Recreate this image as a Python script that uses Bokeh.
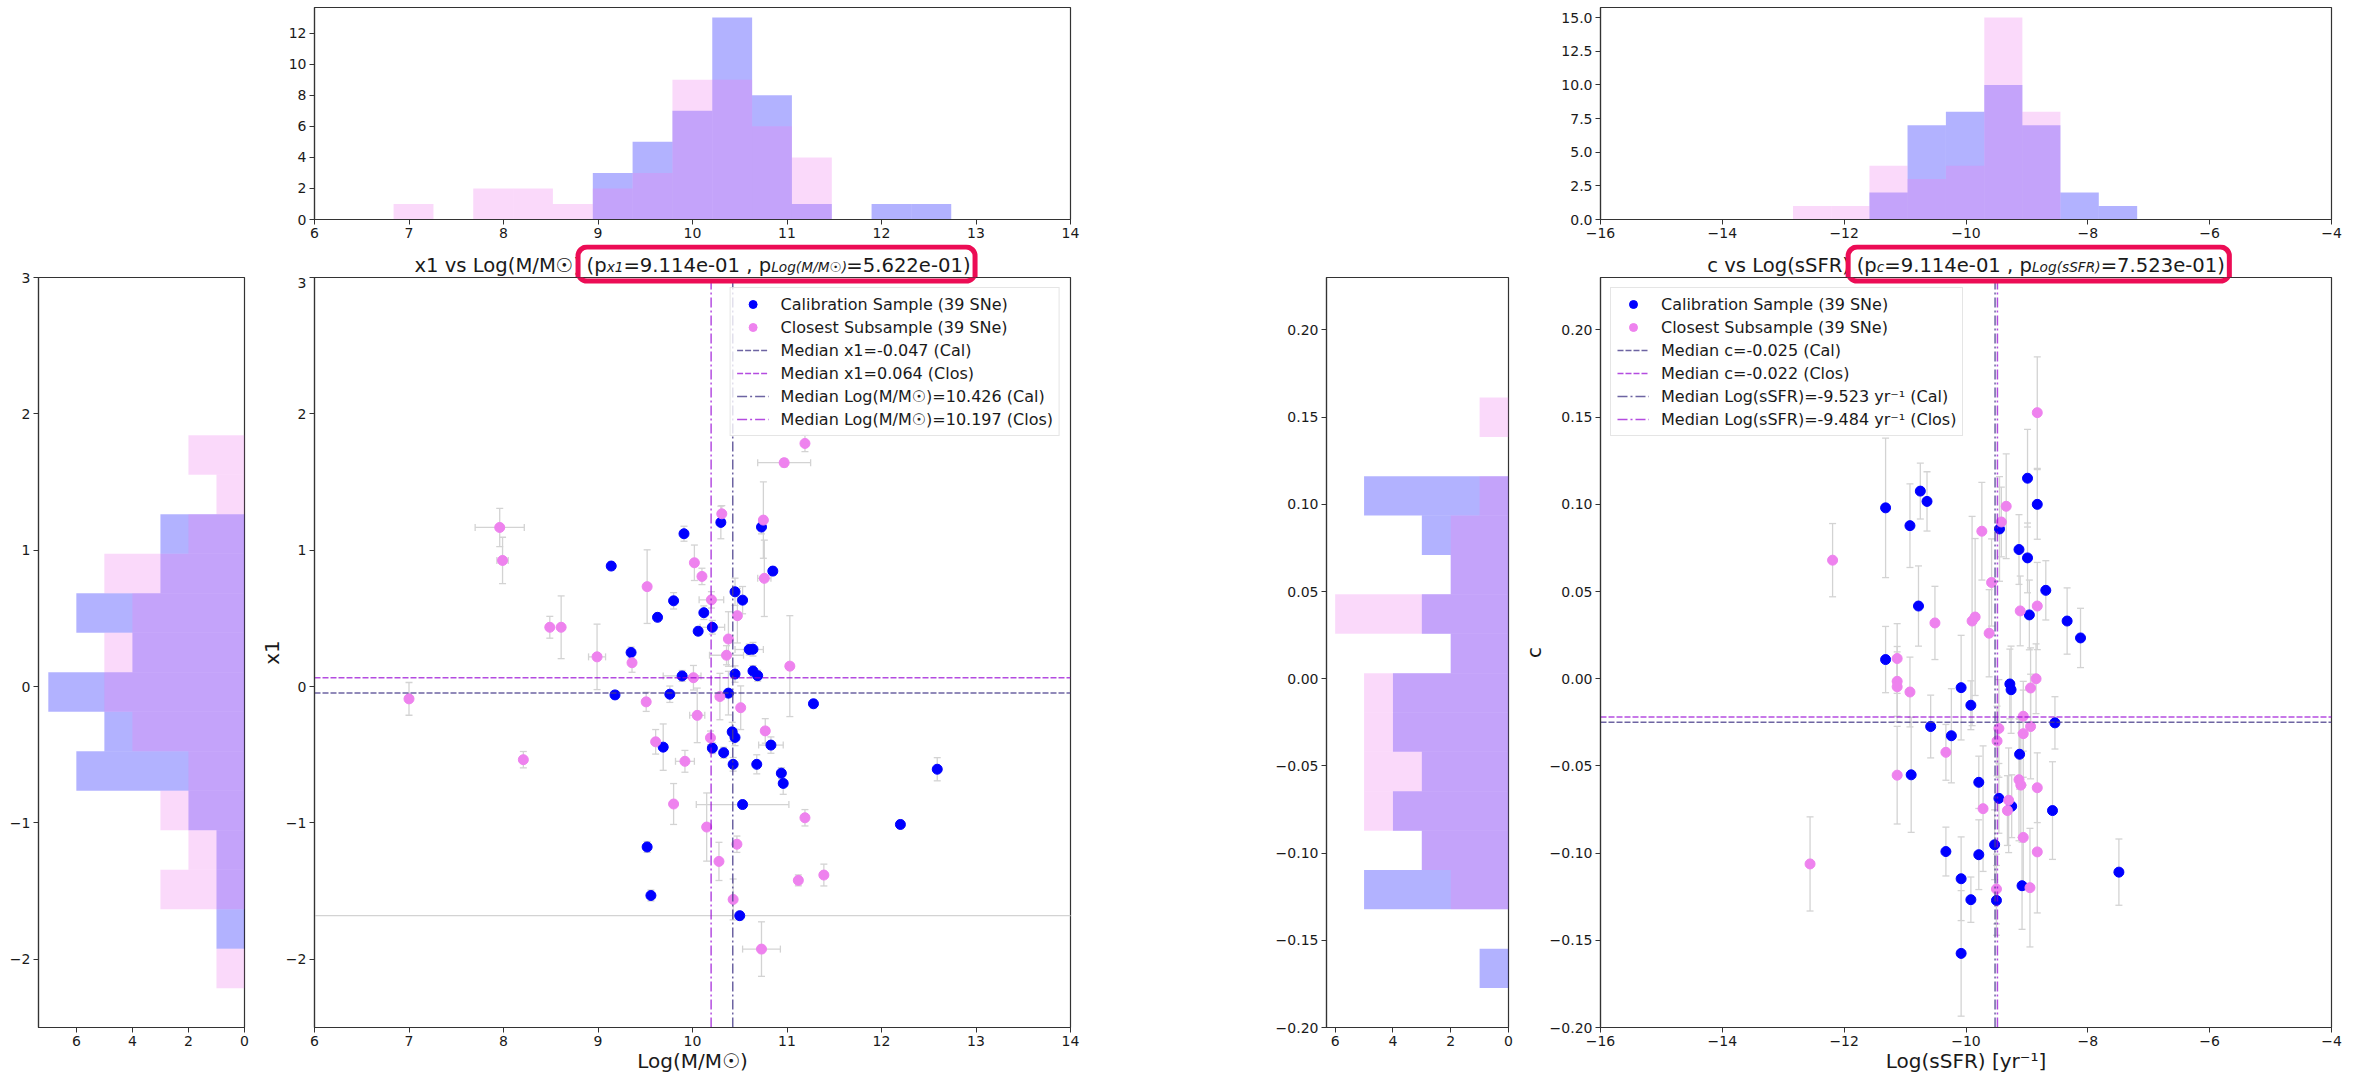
from bokeh.plotting import figure
from bokeh.models import (ColumnDataSource, Range1d, FixedTicker, CustomJSTickFormatter,
                          Whisker, TeeHead, Legend, LegendItem)
from bokeh.layouts import row, column
from bokeh.embed import file_html
from bokeh.resources import INLINE
from bokeh.core.properties import value

FONT = "DejaVu Sans"

# ---------------- data: x1 vs Log(M/M☉) ----------------
CAL_MASS = [10.30, 9.91, 10.73, 9.14, 10.85, 10.45, 10.53, 9.80, 9.63, 10.12,
            10.21, 10.06, 9.35, 10.60, 10.64, 10.64, 10.45, 10.69, 9.89, 9.18,
            9.76, 10.38, 11.28, 10.42, 10.45, 10.83, 9.69, 10.21, 10.33, 10.43,
            10.68, 12.59, 10.94, 10.96, 10.53, 12.20, 9.52, 9.56, 10.50]
CAL_X1 = [1.204, 1.121, 1.170, 0.884, 0.847, 0.695, 0.634, 0.629, 0.508, 0.542,
          0.435, 0.406, 0.250, 0.272, 0.274, 0.114, 0.092, 0.080, 0.078, -0.061,
          -0.056, -0.048, -0.126, -0.332, -0.373, -0.429, -0.444, -0.451, -0.485, -0.570,
          -0.570, -0.606, -0.635, -0.710, -0.865, -1.011, -1.176, -1.532, -1.680]
CAL_MASS_ERR = [0.03, 0.03, 0.03, 0.03, 0.03, 0.03, 0.03, 0.03, 0.03, 0.03,
                0.13, 0.03, 0.03, 0.15, 0.03, 0.03, 0.03, 0.03, 0.20, 0.03,
                0.03, 0.03, 0.03, 0.03, 0.03, 0.13, 0.03, 0.03, 0.03, 0.03,
                0.03, 0.03, 0.03, 0.03, 0.49, 0.03, 0.03, 0.03, 5.0]
CAL_X1_ERR = [0.12, 0.055, 0.05, 0.03, 0.03, 0.10, 0.10, 0.06, 0.03, 0.05,
              0.05, 0.03, 0.04, 0.04, 0.05, 0.04, 0.06, 0.04, 0.04, 0.03,
              0.06, 0.16, 0.03, 0.07, 0.06, 0.06, 0.17, 0.04, 0.04, 0.05,
              0.07, 0.085, 0.04, 0.08, 0.03, 0.03, 0.04, 0.04, 0.03]

CLOS_MASS = [11.19, 10.97, 7.96, 7.99, 10.31, 10.75, 10.02, 10.10, 9.52, 10.76,
             10.20, 10.475, 8.49, 8.61, 10.38, 8.99, 9.36, 10.36, 11.03, 10.01,
             7.00, 9.51, 10.29, 10.51, 10.05, 10.77, 10.19, 9.61, 8.21, 9.92,
             9.80, 10.15, 11.19, 10.47, 10.28, 11.12, 11.39, 10.43, 10.73]
CLOS_X1 = [1.783, 1.642, 1.167, 0.925, 1.267, 1.221, 0.908, 0.808, 0.733, 0.794,
           0.636, 0.520, 0.435, 0.435, 0.349, 0.218, 0.175, 0.230, 0.150, 0.065,
           -0.090, -0.112, -0.073, -0.155, -0.211, -0.325, -0.376, -0.405, -0.536, -0.548,
           -0.861, -1.030, -0.962, -1.156, -1.282, -1.421, -1.382, -1.561, -1.925]
CLOS_MASS_ERR = [0.03, 0.28, 0.26, 0.06, 0.03, 0.03, 0.03, 0.03, 0.03, 0.07,
                 0.13, 0.03, 0.03, 0.03, 0.03, 0.09, 0.03, 0.18, 0.03, 0.03,
                 0.03, 0.03, 0.04, 0.03, 0.08, 0.03, 0.03, 0.03, 0.03, 0.10,
                 0.03, 0.03, 0.03, 0.03, 0.03, 0.03, 0.03, 0.03, 0.20]
CLOS_X1_ERR = [0.06, 0.03, 0.14, 0.17, 0.06, 0.28, 0.13, 0.06, 0.27, 0.28,
               0.06, 0.20, 0.08, 0.23, 0.20, 0.24, 0.07, 0.07, 0.37, 0.09,
               0.12, 0.07, 0.17, 0.16, 0.20, 0.09, 0.05, 0.09, 0.06, 0.08,
               0.15, 0.25, 0.06, 0.06, 0.14, 0.04, 0.08, 0.15, 0.20]

MED_X1_CAL, MED_X1_CLOS = -0.047, 0.064
MED_MASS_CAL, MED_MASS_CLOS = 10.426, 10.197

MASS_EDGES = [6.837, 7.259, 7.680, 8.102, 8.523, 8.945, 9.366, 9.788, 10.209,
              10.631, 11.052, 11.474, 11.895, 12.317, 12.738]
MASS_HIST_CAL = [0, 0, 0, 0, 0, 3, 5, 7, 13, 8, 1, 0, 1, 1]
MASS_HIST_CLOS = [1, 0, 2, 2, 1, 2, 3, 9, 9, 6, 4, 0, 0, 0]

X1_EDGES = [-2.212, -1.922, -1.633, -1.343, -1.053, -0.764, -0.474, -0.184, 0.105,
            0.395, 0.685, 0.974, 1.264, 1.554, 1.844]
X1_HIST_CAL = [0, 1, 1, 1, 2, 6, 5, 7, 4, 6, 3, 3, 0, 0]
X1_HIST_CLOS = [1, 0, 3, 2, 3, 2, 4, 5, 5, 4, 5, 2, 1, 2]

# ---------------- data: c vs Log(sSFR) ----------------
CAL_SSFR = [-11.32, -10.75, -10.64, -10.92, -8.99, -8.83, -9.45, -9.13, -8.99, -8.69,
            -10.78, -8.96, -8.34, -8.12, -11.32, -10.08, -9.28, -9.26, -9.92, -10.58,
            -8.54, -10.24, -9.12, -10.90, -9.79, -9.46, -9.25, -8.58, -9.53, -10.33,
            -9.79, -7.49, -10.08, -9.08, -9.92, -9.50, -10.08]
CAL_C = [0.098, 0.1076, 0.1017, 0.0878, 0.115, 0.100, 0.0859, 0.0741, 0.0693, 0.0507,
         0.0417, 0.0366, 0.0331, 0.0234, 0.011, -0.0051, -0.003, -0.0063, -0.0152, -0.0274,
         -0.0253, -0.0327, -0.0433, -0.0551, -0.0594, -0.0686, -0.0731, -0.0756, -0.0952, -0.0991,
         -0.1009, -0.1109, -0.1147, -0.1187, -0.1267, -0.1271, -0.1575]
CAL_C_ERR = [0.04, 0.016, 0.017, 0.024, 0.028, 0.02, 0.03, 0.02, 0.02, 0.017,
             0.023, 0.02, 0.019, 0.017, 0.019, 0.03, 0.02, 0.025, 0.014, 0.018,
             0.015, 0.027, 0.02, 0.033, 0.015, 0.02, 0.018, 0.028, 0.02, 0.014,
             0.02, 0.019, 0.024, 0.025, 0.013, 0.02, 0.036]

CLOS_SSFR = [-8.83, -12.19, -9.34, -9.42, -9.74, -9.58, -9.11, -8.83, -10.51, -9.90,
             -9.85, -9.62, -11.13, -11.13, -11.13, -10.92, -8.85, -8.94, -9.06, -8.94,
             -9.46, -9.06, -9.49, -10.33, -11.13, -9.13, -9.10, -8.83, -9.30, -9.72,
             -9.32, -9.06, -8.83, -12.56, -9.50, -8.95]
CLOS_C = [0.1526, 0.068, 0.0989, 0.0899, 0.0846, 0.0552, 0.0389, 0.0417, 0.032, 0.0331,
          0.0354, 0.0261, 0.0116, -0.0015, -0.0046, -0.0076, 0.000, -0.0053, -0.0215, -0.0274,
          -0.0285, -0.0315, -0.0357, -0.0422, -0.0553, -0.0579, -0.061, -0.0625, -0.0697, -0.0745,
          -0.0756, -0.091, -0.0993, -0.1062, -0.1206, -0.1198]
CLOS_C_ERR = [0.032, 0.021, 0.03, 0.02, 0.028, 0.025, 0.02, 0.025, 0.021, 0.06,
              0.045, 0.025, 0.02, 0.02, 0.02, 0.02, 0.02, 0.023, 0.02, 0.03,
              0.028, 0.025, 0.02, 0.016, 0.028, 0.035, 0.03, 0.02, 0.03, 0.036,
              0.02, 0.03, 0.035, 0.027, 0.02, 0.034]

MED_C_CAL, MED_C_CLOS = -0.025, -0.022
MED_SSFR_CAL, MED_SSFR_CLOS = -9.523, -9.484

SSFR_EDGES = [-12.84, -12.21, -11.585, -10.96, -10.33, -9.70, -9.075, -8.45, -7.82, -7.19]
SSFR_HIST_CAL = [0, 0, 2, 7, 8, 10, 7, 2, 1]
SSFR_HIST_CLOS = [1, 1, 4, 3, 4, 15, 8, 0, 0]

C_EDGES = [-0.1774, -0.1548, -0.1322, -0.1097, -0.0871, -0.0645, -0.0419, -0.0193,
           0.0032, 0.0258, 0.0484, 0.0710, 0.0936, 0.1161, 0.1387, 0.1613]
C_HIST_CAL = [1, 0, 5, 3, 4, 3, 4, 4, 2, 3, 2, 3, 5, 0, 0]
C_HIST_CLOS = [0, 0, 2, 3, 5, 5, 5, 5, 2, 6, 2, 2, 1, 0, 1]

# axis limits / ticks
MASS_LIM, X1_LIM = (6, 14), (-2.5, 3)
SSFR_LIM, C_LIM = (-16, -4), (-0.20, 0.2301)
MASS_TICKS = [6, 7, 8, 9, 10, 11, 12, 13, 14]
X1_TICKS = [-2, -1, 0, 1, 2, 3]
SSFR_TICKS = [-16, -14, -12, -10, -8, -6, -4]
C_TICKS = [-0.20, -0.15, -0.10, -0.05, 0.0, 0.05, 0.10, 0.15, 0.20]
MASS_HIST_TICKS = [0, 2, 4, 6, 8, 10, 12]
SSFR_HIST_TICKS = [0, 2.5, 5, 7.5, 10, 12.5, 15]
SIDE_TICKS = [0, 2, 4, 6]

# ---------------- styling ----------------
CAL_COLOR, CLOS_COLOR = "blue", "violet"
MED_CAL_COLOR, MED_CLOS_COLOR = "darkslateblue", "darkviolet"
ERR_COLOR = "#d3d3d3"
BOX_COLOR = "#ec0c55"
SPINE = "#333333"
TXT = "#1a1a1a"
T_SIZE = 19.6
S_SIZE = 13.7

# layout (pixels)
TOP_MBT, TOP_FRAME_H, TOP_MBB = 7, 212, 25
TITLE_H = 33
MAIN_MBT, MAIN_FRAME_H, MAIN_MBB = 0, 750, 45
L_SIDE = dict(mbl=38, fw=206, mbr=10)
L_MAIN = dict(mbl=60, fw=756, mbr=20)
R_SIDE = dict(mbl=236, fw=182, mbr=10)
R_MAIN = dict(mbl=82, fw=731, mbr=12)

W = {' ': 318, '(': 390, ')': 390, ',': 318, '-': 361, '.': 318, '/': 337, '=': 838,
     'C': 698, 'F': 575, 'L': 557, 'M': 863, 'N': 748, 'R': 695, 'S': 635,
     'a': 613, 'b': 635, 'c': 550, 'e': 615, 'g': 635, 'i': 278, 'l': 278, 'm': 974,
     'n': 634, 'o': 612, 'p': 635, 'r': 411, 's': 521, 't': 392, 'v': 592, 'x': 592,
     'y': 592, '\u2609': 838}
for d in "0123456789":
    W[d] = 636


def tw(s, size):
    return sum(W.get(ch, 600) for ch in s) / 1000.0 * size


def fmt(dec):
    return CustomJSTickFormatter(code=f"""
        const a = Math.abs(tick) < 1e-9 ? 0 : tick;
        const s = Math.abs(a).toFixed({dec});
        return (a < 0 ? "\u2212" : "") + s;
    """)


def style_axis(ax):
    ax.axis_line_color = SPINE
    ax.axis_line_width = 1.2
    ax.major_tick_line_color = SPINE
    ax.major_tick_out = 5
    ax.major_tick_in = 0
    ax.minor_tick_line_color = None
    ax.major_label_text_font = FONT
    ax.major_label_text_font_size = "14px"
    ax.major_label_text_color = TXT
    ax.major_label_standoff = 3
    ax.axis_label_text_font = FONT
    ax.axis_label_text_font_size = "20px"
    ax.axis_label_text_font_style = "normal"
    ax.axis_label_text_color = TXT


def mkfig(geo, frame_h, xlim, ylim, mbt, mbb):
    p = figure(frame_width=geo["fw"], frame_height=frame_h,
               x_range=Range1d(*xlim), y_range=Range1d(*ylim),
               output_backend="svg", toolbar_location=None,
               min_border_left=geo["mbl"], min_border_right=geo["mbr"],
               min_border_top=mbt, min_border_bottom=mbb)
    p.grid.visible = False
    p.outline_line_color = SPINE
    p.outline_line_width = 1.2
    p.outline_line_alpha = 1.0
    p.background_fill_color = "white"
    p.border_fill_color = "white"
    for ax in list(p.xaxis) + list(p.yaxis):
        style_axis(ax)
    return p


def set_ticks(ax, ticks, dec):
    ax.ticker = FixedTicker(ticks=ticks)
    ax.formatter = fmt(dec)


def top_hist(geo, xlim, ymax, edges, cal, clos, xticks, yticks, ydec):
    p = mkfig(geo, TOP_FRAME_H, xlim, (0, ymax), TOP_MBT, TOP_MBB)
    p.quad(left=edges[:-1], right=edges[1:], bottom=0, top=cal,
           fill_color=CAL_COLOR, fill_alpha=0.3, line_color=None)
    p.quad(left=edges[:-1], right=edges[1:], bottom=0, top=clos,
           fill_color=CLOS_COLOR, fill_alpha=0.3, line_color=None)
    set_ticks(p.xaxis[0], xticks, 0)
    set_ticks(p.yaxis[0], yticks, ydec)
    return p


def side_hist(geo, xmax, ylim, edges, cal, clos, yticks, ydec):
    p = mkfig(geo, MAIN_FRAME_H, (xmax, 0), ylim, TITLE_H + MAIN_MBT, MAIN_MBB)
    p.quad(left=0, right=cal, bottom=edges[:-1], top=edges[1:],
           fill_color=CAL_COLOR, fill_alpha=0.3, line_color=None)
    p.quad(left=0, right=clos, bottom=edges[:-1], top=edges[1:],
           fill_color=CLOS_COLOR, fill_alpha=0.3, line_color=None)
    set_ticks(p.xaxis[0], SIDE_TICKS, 0)
    set_ticks(p.yaxis[0], yticks, ydec)
    return p


def err_whiskers(p, xs, ys, xerr, yerr):
    data = dict(x=xs, y=ys,
                ylo=[y - e for y, e in zip(ys, yerr)], yhi=[y + e for y, e in zip(ys, yerr)])
    if xerr is not None:
        data["xlo"] = [x - e for x, e in zip(xs, xerr)]
        data["xhi"] = [x + e for x, e in zip(xs, xerr)]
    src = ColumnDataSource(data)

    def head():
        return TeeHead(size=7, line_color=ERR_COLOR, line_width=1.3)
    p.add_layout(Whisker(source=src, base="x", lower="ylo", upper="yhi", dimension="height",
                         line_color=ERR_COLOR, line_width=1.3, level="underlay",
                         upper_head=head(), lower_head=head()))
    if xerr is not None:
        p.add_layout(Whisker(source=src, base="y", lower="xlo", upper="xhi", dimension="width",
                             line_color=ERR_COLOR, line_width=1.3, level="underlay",
                             upper_head=head(), lower_head=head()))


def title_layout(geo, pieces):
    """Piece x positions (px from frame left) and highlight-box extents (px)."""
    sizes = [S_SIZE if k == "s" else T_SIZE for _, k in pieces]
    widths = [tw(t, s) for (t, _), s in zip(pieces, sizes)]
    total = sum(widths)
    pos = geo["fw"] / 2.0 - total / 2.0
    xs = []
    for w in widths:
        xs.append(pos)
        pos += w
    box_i = [k for _, k in pieces].index("box")
    return xs, sizes, xs[box_i] - 8.5, pos + 4.5


def title_fig(geo, pieces):
    # same horizontal borders as the panel below, so the frames line up;
    # x is measured in pixels from the frame's left edge
    p = figure(frame_width=geo["fw"], frame_height=TITLE_H,
               x_range=Range1d(0, geo["fw"]), y_range=Range1d(0, TITLE_H),
               output_backend="svg", toolbar_location=None,
               x_axis_location=None, y_axis_location=None,
               min_border_left=geo["mbl"], min_border_right=geo["mbr"],
               min_border_top=0, min_border_bottom=0)
    p.grid.visible = False
    p.outline_line_color = None
    p.background_fill_color = "white"
    p.border_fill_color = "white"
    # top spine (upper half; the lower half is drawn by the panel below)
    p.line([0, geo["fw"]], [0, 0], line_color=SPINE, line_width=1.2)
    xs, sizes, box_l, box_r = title_layout(geo, pieces)
    y_main = 12.5                        # text anchor height in the strip
    y_sub = 11.0
    for (t, k), x, s in zip(pieces, xs, sizes):
        p.text(x=[x], y=[y_sub if k == "s" else y_main],
               text=[t], text_font=value(FONT), text_font_size=value(f"{s}px"),
               text_font_style=("italic" if k == "s" else "normal"),
               text_align="left", text_baseline="alphabetic", text_color=TXT)
    top_c = 30.5 - MAIN_MBT              # box centre line 30.5 px above frame top
    p.quad(left=[box_l], right=[box_r], top=[top_c], bottom=[-30],
           fill_color=None, line_color=BOX_COLOR, line_width=5, border_radius=9)
    return p


def main_panel(geo, xlim, ylim, cal_x, cal_y, cal_xe, cal_ye,
               clos_x, clos_y, clos_xe, clos_ye, med_y, med_x, labels,
               xticks, xdec, yticks, ydec, title_pieces, xlabel, ylabel,
               ylabel_standoff, legend_loc):
    p = mkfig(geo, MAIN_FRAME_H, xlim, ylim, MAIN_MBT, MAIN_MBB)
    set_ticks(p.xaxis[0], xticks, xdec)
    set_ticks(p.yaxis[0], yticks, ydec)
    p.xaxis[0].axis_label = xlabel
    p.xaxis[0].axis_label_standoff = 0
    p.yaxis[0].axis_label = ylabel
    p.yaxis[0].axis_label_standoff = ylabel_standoff
    err_whiskers(p, cal_x, cal_y, cal_xe, cal_ye)
    err_whiskers(p, clos_x, clos_y, clos_xe, clos_ye)
    r_cal = p.scatter(cal_x, cal_y, size=10, marker="circle", fill_color=CAL_COLOR,
                      line_color=CAL_COLOR)
    r_clos = p.scatter(clos_x, clos_y, size=10, marker="circle", fill_color=CLOS_COLOR,
                       line_color=CLOS_COLOR)
    r_h1 = p.line(list(xlim), [med_y[0], med_y[0]], line_color=MED_CAL_COLOR,
                  line_alpha=0.8, line_width=1.5, line_dash="6 2")
    r_h2 = p.line(list(xlim), [med_y[1], med_y[1]], line_color=MED_CLOS_COLOR,
                  line_alpha=0.7, line_width=1.5, line_dash="6 2")
    r_v1 = p.line([med_x[0], med_x[0]], list(ylim), line_color=MED_CAL_COLOR,
                  line_alpha=0.8, line_width=1.5, line_dash="10 3 2 3")
    r_v2 = p.line([med_x[1], med_x[1]], list(ylim), line_color=MED_CLOS_COLOR,
                  line_alpha=0.7, line_width=1.5, line_dash="10 3 2 3")
    # lower part of the highlight box around the p-values (continues the title strip)
    xs, sizes, box_l, box_r = title_layout(geo, title_pieces)
    dx = (xlim[1] - xlim[0]) / geo["fw"]
    dy = (ylim[1] - ylim[0]) / MAIN_FRAME_H
    p.quad(left=[xlim[0] + box_l * dx], right=[xlim[0] + box_r * dx],
           top=[ylim[1] + 40 * dy], bottom=[ylim[1] - 3.5 * dy],
           fill_color=None, line_color=BOX_COLOR, line_width=5, border_radius=9)
    items = [LegendItem(label=lab, renderers=[r]) for lab, r in
             zip(labels, [r_cal, r_clos, r_h1, r_h2, r_v1, r_v2])]
    leg = Legend(items=items, location=legend_loc, margin=10, padding=6, spacing=3,
                 glyph_width=32, glyph_height=20, label_height=20, label_standoff=12,
                 label_text_font=FONT, label_text_font_size="16px",
                 label_text_color=TXT,
                 background_fill_color="white", background_fill_alpha=0.8,
                 border_line_color="#cccccc", border_line_width=1)
    p.add_layout(leg)
    return column(title_fig(geo, title_pieces), p, spacing=0)


# ---------------- figures ----------------
tl = top_hist(dict(mbl=L_SIDE["mbl"] + L_SIDE["fw"] + L_SIDE["mbr"] + L_MAIN["mbl"],
                   fw=L_MAIN["fw"], mbr=L_MAIN["mbr"]),
              MASS_LIM, 13.65, MASS_EDGES, MASS_HIST_CAL, MASS_HIST_CLOS,
              MASS_TICKS, MASS_HIST_TICKS, 0)
tr = top_hist(dict(mbl=R_SIDE["mbl"] + R_SIDE["fw"] + R_SIDE["mbr"] + R_MAIN["mbl"],
                   fw=R_MAIN["fw"], mbr=R_MAIN["mbr"]),
              SSFR_LIM, 15.75, SSFR_EDGES, SSFR_HIST_CAL, SSFR_HIST_CLOS,
              SSFR_TICKS, SSFR_HIST_TICKS, 1)

sl = side_hist(L_SIDE, 7.35, X1_LIM, X1_EDGES, X1_HIST_CAL, X1_HIST_CLOS, X1_TICKS, 0)
sr = side_hist(R_SIDE, 6.3, C_LIM, C_EDGES, C_HIST_CAL, C_HIST_CLOS, C_TICKS, 2)

SUN = "\u2609"
ml = main_panel(
    L_MAIN, MASS_LIM, X1_LIM,
    CAL_MASS, CAL_X1, CAL_MASS_ERR, CAL_X1_ERR,
    CLOS_MASS, CLOS_X1, CLOS_MASS_ERR, CLOS_X1_ERR,
    (MED_X1_CAL, MED_X1_CLOS), (MED_MASS_CAL, MED_MASS_CLOS),
    ["Calibration Sample (39 SNe)", "Closest Subsample (39 SNe)",
     f"Median x1={MED_X1_CAL:.3f} (Cal)", f"Median x1={MED_X1_CLOS:.3f} (Clos)",
     f"Median Log(M/M{SUN})={MED_MASS_CAL:.3f} (Cal)",
     f"Median Log(M/M{SUN})={MED_MASS_CLOS:.3f} (Clos)"],
    MASS_TICKS, 0, X1_TICKS, 0,
    [(f"x1 vs Log(M/M{SUN}) ", "n"), ("(p", "box"), ("x1", "s"),
     ("=9.114e-01 , p", "n"), (f"Log(M/M{SUN})", "s"), ("=5.622e-01)", "n")],
    f"Log(M/M{SUN})", "x1", -1, "top_right")

mr = main_panel(
    R_MAIN, SSFR_LIM, C_LIM,
    CAL_SSFR, CAL_C, None, CAL_C_ERR,
    CLOS_SSFR, CLOS_C, None, CLOS_C_ERR,
    (MED_C_CAL, MED_C_CLOS), (MED_SSFR_CAL, MED_SSFR_CLOS),
    ["Calibration Sample (39 SNe)", "Closest Subsample (39 SNe)",
     f"Median c={MED_C_CAL:.3f} (Cal)", f"Median c={MED_C_CLOS:.3f} (Clos)",
     f"Median Log(sSFR)={MED_SSFR_CAL:.3f} yr\u207b\u00b9 (Cal)",
     f"Median Log(sSFR)={MED_SSFR_CLOS:.3f} yr\u207b\u00b9 (Clos)"],
    SSFR_TICKS, 0, C_TICKS, 2,
    [("c vs Log(sSFR) ", "n"), ("(p", "box"), ("c", "s"),
     ("=9.114e-01 , p", "n"), ("Log(sSFR)", "s"), ("=7.523e-01)", "n")],
    "Log(sSFR) [yr\u207b\u00b9]", "c", 1, "top_left")

layout = column(row(tl, tr, spacing=0), row(sl, ml, sr, mr, spacing=0), spacing=0)

with open("out.html", "w") as f:
    f.write(file_html(layout, INLINE))
